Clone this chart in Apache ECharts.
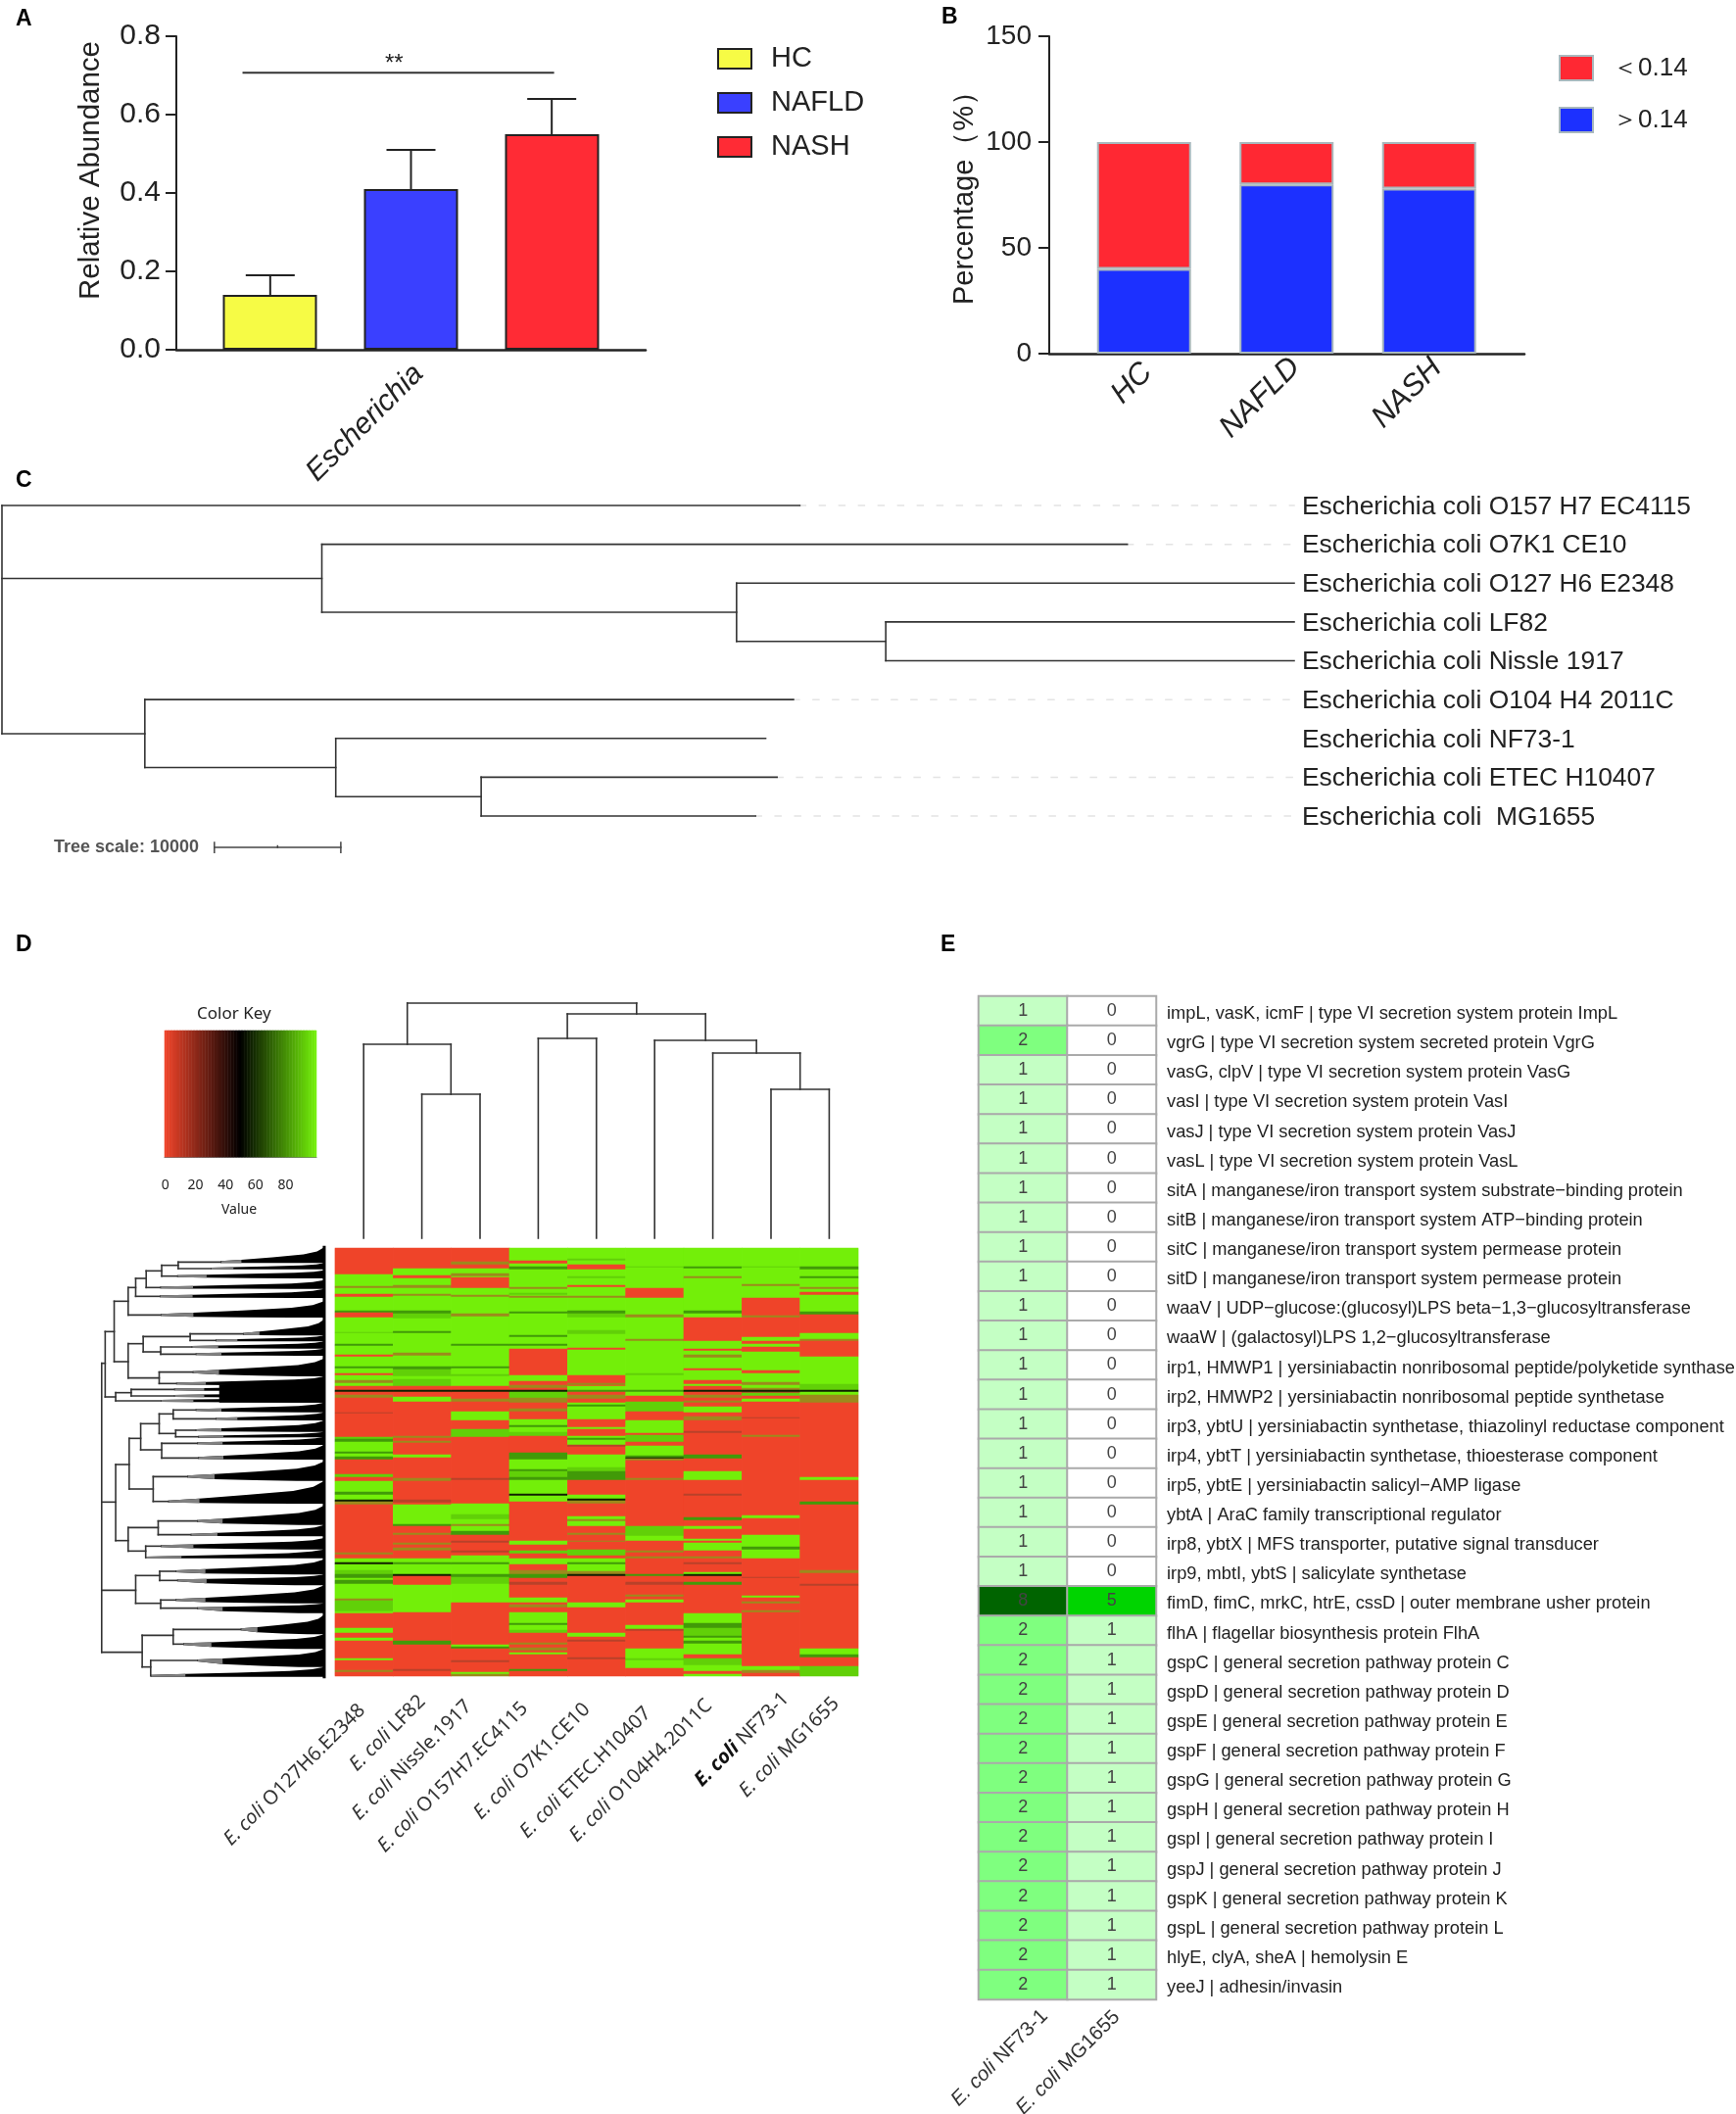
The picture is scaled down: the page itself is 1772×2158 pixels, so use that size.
<!DOCTYPE html>
<html><head><meta charset="utf-8">
<style>html,body{margin:0;padding:0;background:#fff}#c{width:1772px;height:2158px}</style>
<script src="https://cdn.jsdelivr.net/npm/echarts@6/dist/echarts.min.js"></script>
</head><body><div id="c"></div>
<script>
// ---------- Panel A ----------
const aGroups=['HC','NAFLD','NASH'];
const aCategory=['Escherichia'];
const aMeans=[0.14,0.41,0.55];
const aUpper=[0.19,0.51,0.64];
const aSignificance=[-1.19,1.01,0.707];
// ---------- Panel B ----------
const bCategories=['HC','NAFLD','NASH'];
const bAbove=[40,80,78];
const bBelow=[60,20,22];
// ---------- Panel C (branch lengths in thousands; y in leaf order) ----------
const cLeaves=['Escherichia coli O157 H7 EC4115','Escherichia coli O7K1 CE10','Escherichia coli O127 H6 E2348','Escherichia coli LF82','Escherichia coli Nissle 1917','Escherichia coli O104 H4 2011C','Escherichia coli NF73-1','Escherichia coli ETEC H10407','Escherichia coli  MG1655'];
const cHoriz=[[0,63.1,0],[0,25.3,1.88],[25.3,89,1],[25.3,58.1,2.75],[58.1,102.2,2],[58.1,69.9,3.5],[69.9,102.2,3],[69.9,102.2,4],[0,11.3,5.88],[11.3,62.6,5],[11.3,26.4,6.75],[26.4,60.4,6],[26.4,37.9,7.5],[37.9,61.3,7],[37.9,59.6,8]];
const cVert=[[0,0,5.88],[25.3,1,2.75],[58.1,2,3.5],[69.9,3,4],[11.3,5,6.75],[26.4,6,7.5],[37.9,7,8]];
const cDashes=[[63.1,102.2,0],[89,102.2,1],[62.6,102.2,5],[61.3,102.2,7],[59.6,102.2,8]];
const cScaleH=[[16.8,26.8,8.81]];
const cScaleV=[[16.8,8.68,8.94],[21.8,8.77,8.81],[26.8,8.68,8.94]];
// ---------- Panel D ----------
const dStrains=['E. coli|O127H6.E2348','E. coli|LF82','E. coli|Nissle.1917','E. coli|O157H7.EC4115','E. coli|O7K1.CE10','E. coli|ETEC.H10407','E. coli|O104H4.2011C','E. coli|NF73-1','E. coli|MG1655'];
const dKeyTicks=[0,20,40,60,80,100];
// column runs: [last row, value]
const dCol0=[[27,0],[39,100],[41,30],[47,100],[50,0],[64,100],[66,72],[71,0],[86,100],[87,88],[98,100],[100,72],[109,100],[111,0],[121,100],[123,72],[128,100],[130,0],[135,100],[138,30],[141,100],[145,0],[147,50],[150,0],[153,30],[168,0],[169,15],[193,0],[195,88],[198,72],[208,100],[210,72],[213,100],[216,72],[231,0],[234,88],[238,0],[249,100],[252,72],[257,100],[259,50],[262,30],[311,0],[313,30],[317,0],[321,100],[323,50],[329,100],[333,88],[337,72],[339,100],[343,72],[358,100],[360,30],[371,88],[373,100],[388,0],[393,100],[398,0],[401,100],[419,0],[421,100],[431,0],[433,30],[437,0]];
const dCol1=[[21,0],[28,100],[31,0],[38,100],[41,30],[47,100],[49,30],[64,100],[67,72],[72,88],[85,100],[87,72],[107,100],[110,30],[121,100],[124,72],[131,88],[134,100],[141,88],[145,0],[147,50],[152,0],[157,100],[192,0],[194,30],[197,0],[199,30],[211,0],[214,100],[235,0],[238,30],[257,0],[260,15],[262,0],[282,100],[284,72],[291,0],[293,30],[301,0],[303,30],[306,0],[309,30],[317,0],[321,100],[323,72],[333,100],[335,50],[344,0],[372,100],[401,0],[405,72],[430,0],[432,15],[437,0]];
const dCol2=[[14,0],[17,30],[21,0],[26,100],[29,30],[30,100],[41,0],[48,100],[50,30],[67,100],[70,30],[98,100],[100,72],[121,100],[123,72],[129,100],[131,88],[141,100],[145,0],[147,50],[154,0],[157,30],[167,0],[176,100],[185,0],[193,88],[235,0],[237,15],[261,0],[272,100],[277,88],[282,100],[284,30],[289,100],[293,72],[299,0],[301,15],[309,0],[311,15],[314,0],[321,100],[323,72],[333,100],[336,72],[343,88],[362,100],[405,0],[407,100],[409,72],[421,0],[423,15],[433,0],[435,100],[437,30]];
const dCol3=[[13,100],[16,0],[19,100],[22,72],[40,100],[42,30],[46,100],[48,88],[49,100],[51,30],[65,100],[67,72],[89,100],[91,72],[98,100],[100,72],[103,100],[130,0],[136,100],[140,0],[143,30],[145,0],[147,50],[149,88],[153,88],[158,30],[164,0],[167,30],[175,0],[181,100],[183,72],[188,100],[192,88],[209,0],[216,72],[226,100],[228,72],[234,88],[237,72],[251,100],[253,50],[259,100],[299,0],[303,100],[309,0],[312,88],[317,0],[323,100],[329,0],[333,30],[337,72],[341,0],[344,15],[357,0],[362,100],[364,0],[367,30],[372,0],[383,100],[385,72],[390,100],[393,88],[403,0],[405,30],[408,0],[411,30],[413,0],[415,100],[430,0],[432,72],[437,0]];
const dCol4=[[11,100],[13,88],[17,100],[22,0],[29,100],[31,88],[38,100],[40,0],[49,100],[51,30],[64,100],[67,72],[71,88],[84,100],[88,88],[102,100],[104,0],[121,100],[130,100],[138,0],[140,30],[141,0],[145,100],[147,72],[150,0],[154,30],[158,0],[160,100],[162,72],[175,100],[183,0],[185,100],[192,0],[194,100],[196,72],[201,100],[203,15],[211,0],[224,100],[228,88],[232,72],[237,72],[252,0],[256,100],[258,50],[261,30],[274,0],[277,100],[279,30],[284,100],[291,0],[293,30],[299,0],[300,30],[308,0],[314,88],[317,0],[321,100],[323,72],[330,100],[333,30],[335,50],[362,0],[367,100],[393,0],[397,100],[400,0],[402,15],[418,0],[420,15],[437,0]];
const dCol5=[[19,100],[20,88],[41,100],[51,0],[68,100],[71,30],[93,100],[95,30],[128,100],[130,88],[145,100],[147,72],[151,100],[157,0],[167,88],[176,0],[189,100],[191,0],[198,88],[202,0],[212,100],[214,72],[215,50],[217,30],[235,0],[237,30],[284,0],[286,88],[294,88],[299,100],[309,0],[311,30],[315,0],[317,30],[333,0],[335,72],[341,0],[344,15],[354,0],[356,30],[359,0],[362,100],[385,0],[389,100],[391,15],[409,0],[419,100],[421,88],[425,100],[429,100],[437,0]];
const dCol6=[[19,100],[21,72],[29,100],[31,30],[64,100],[67,72],[71,100],[95,0],[103,100],[105,0],[109,100],[112,30],[123,100],[125,0],[135,100],[139,0],[141,100],[145,0],[147,50],[150,0],[153,30],[156,0],[158,30],[162,0],[168,100],[172,0],[176,30],[187,0],[189,15],[211,0],[215,72],[228,0],[237,100],[251,0],[253,15],[275,0],[278,72],[284,0],[287,100],[297,0],[299,100],[301,0],[309,100],[315,0],[317,30],[321,0],[323,15],[331,0],[333,100],[335,50],[341,0],[344,72],[373,0],[383,100],[388,72],[396,88],[398,72],[401,100],[404,72],[415,100],[419,0],[426,88],[432,100],[435,0],[437,100]];
const dCol7=[[19,100],[20,88],[37,100],[39,30],[51,100],[69,0],[71,30],[91,0],[95,100],[98,0],[101,100],[106,0],[125,100],[128,0],[137,100],[140,30],[143,100],[145,30],[147,50],[148,15],[151,88],[154,0],[157,100],[173,0],[174,15],[191,0],[193,30],[273,0],[276,100],[293,0],[305,100],[308,72],[317,100],[336,0],[337,15],[355,0],[357,100],[361,0],[363,30],[370,0],[372,30],[427,0],[431,100],[434,30],[437,0]];
const dCol8=[[19,100],[22,72],[29,100],[31,72],[40,100],[42,30],[45,100],[48,0],[65,100],[68,72],[87,0],[93,100],[95,30],[111,0],[139,100],[145,88],[147,50],[150,100],[154,30],[158,30],[234,0],[237,100],[259,0],[262,72],[329,0],[332,30],[343,0],[345,15],[409,0],[415,100],[418,72],[427,0],[437,88]];
const dColumns=[dCol0,dCol1,dCol2,dCol3,dCol4,dCol5,dCol6,dCol7,dCol8];
const dRowCount=437;
// column dendrogram: [left pos, left height, right pos, right height, height]
const dColMerges=[[1,0,2,0,147],[0,0,1.5,147,198],[7,0,8,0,152],[6,0,7.5,152,189],[5,0,6.75,189,202],[3,0,4,0,204],[3.5,204,5.875,202,229],[0.75,198,4.69,229,240]];
// row dendrogram
const dRowH=[[27,34,425],[34,52,328],[52,80,235],[80,95,193],[95,116,165],[116,147,142],[147,180,125],[180,265,115],[180,245,135],[147,178,158],[116,144,193],[95,143,220],[80,145,277],[52,80,420],[80,110,365],[110,204,343],[204,310,335],[204,255,355],[110,145,390],[145,207,375],[145,215,397],[80,142,470],[142,209,452],[142,176,487],[34,55,528],[55,86,515],[86,172,505],[86,172,525],[55,145,540],[27,55,850],[55,82,735],[82,105,655],[105,142,610],[142,170,580],[170,215,568],[170,255,595],[142,175,640],[175,215,630],[175,220,650],[105,147,690],[147,218,670],[147,220,715],[82,130,810],[130,198,772],[130,160,848],[55,80,968],[80,140,928],[140,218,908],[140,205,950],[80,115,1000],[115,145,985],[27,95,1120],[95,143,1075],[143,175,1062],[143,178,1090],[95,145,1160],[145,175,1150],[145,218,1175],[27,108,1310],[108,170,1258],[170,305,1240],[170,190,1285],[108,125,1355],[125,218,1335]];
const dRowV=[[27,425,1310],[34,328,528],[52,235,420],[80,193,277],[95,165,220],[116,142,193],[147,125,158],[180,115,135],[80,365,470],[110,343,390],[204,335,355],[145,375,397],[142,452,487],[55,515,540],[86,505,525],[55,735,968],[82,655,810],[105,610,690],[142,580,640],[170,568,595],[175,630,650],[147,670,715],[130,772,848],[80,928,1000],[140,908,950],[115,985,1020],[95,1075,1160],[143,1062,1090],[145,1150,1175],[108,1258,1355],[170,1240,1285],[125,1335,1382]];
// wedges: [start, stem y, top y, bottom y]
const dRowW=[[265,115,70,118],[245,135,118,137],[178,158,140,165],[144,193,170,197],[143,220,197,225],[145,277,235,285],[310,335,290,340],[255,355,340,358],[207,375,358,380],[215,397,380,402],[209,452,410,465],[176,487,465,493],[172,505,490,510],[172,525,510,530],[145,540,525,545],[215,568,545,575],[255,595,575,600],[215,630,600,635],[220,650,635,652],[218,670,650,675],[220,715,675,720],[198,772,725,785],[160,848,785,855],[218,908,860,920],[205,950,920,955],[145,985,960,995],[115,1020,995,1022],[175,1062,1025,1072],[178,1090,1072,1105],[175,1150,1105,1160],[218,1175,1160,1190],[305,1240,1195,1255],[190,1285,1255,1300],[218,1335,1300,1355],[125,1382,1355,1385]];
const dRowBlock=[[262,490,545]];
const dRowEdge=[[472,70,1385]];
const wedgeStops=[0,.2,.5,.8,.93,1];
const wedgeRise=[0,.1,.28,.48,.7,1];
const wedgeDrop=[0,.5,.8,1,1,1];
// ---------- Panel E ----------
const eStrains=['E. coli|NF73-1','E. coli|MG1655'];
const eGenes=['impL, vasK, icmF | type VI secretion system protein ImpL','vgrG | type VI secretion system secreted protein VgrG','vasG, clpV | type VI secretion system protein VasG','vasI | type VI secretion system protein VasI','vasJ | type VI secretion system protein VasJ','vasL | type VI secretion system protein VasL','sitA | manganese/iron transport system substrate\u2212binding protein','sitB | manganese/iron transport system ATP\u2212binding protein','sitC | manganese/iron transport system permease protein','sitD | manganese/iron transport system permease protein','waaV | UDP\u2212glucose:(glucosyl)LPS beta\u22121,3\u2212glucosyltransferase','waaW | (galactosyl)LPS 1,2\u2212glucosyltransferase','irp1, HMWP1 | yersiniabactin nonribosomal peptide/polyketide synthase','irp2, HMWP2 | yersiniabactin nonribosomal peptide synthetase','irp3, ybtU | yersiniabactin synthetase, thiazolinyl reductase component','irp4, ybtT | yersiniabactin synthetase, thioesterase component','irp5, ybtE | yersiniabactin salicyl\u2212AMP ligase','ybtA | AraC family transcriptional regulator','irp8, ybtX | MFS transporter, putative signal transducer','irp9, mbtI, ybtS | salicylate synthetase','fimD, fimC, mrkC, htrE, cssD | outer membrane usher protein','flhA | flagellar biosynthesis protein FlhA','gspC | general secretion pathway protein C','gspD | general secretion pathway protein D','gspE | general secretion pathway protein E','gspF | general secretion pathway protein F','gspG | general secretion pathway protein G','gspH | general secretion pathway protein H','gspI | general secretion pathway protein I','gspJ | general secretion pathway protein J','gspK | general secretion pathway protein K','gspL | general secretion pathway protein L','hlyE, clyA, sheA | hemolysin E','yeeJ | adhesin/invasin'];
const eNF73=[1,2,1,1,1,1,1,1,1,1,1,1,1,1,1,1,1,1,1,1,8,2,2,2,2,2,2,2,2,2,2,2,2,2];
const eMG1655=[0,0,0,0,0,0,0,0,0,0,0,0,0,0,0,0,0,0,0,0,5,1,1,1,1,1,1,1,1,1,1,1,1,1];

const SANS='"Liberation Sans",Arial,sans-serif', NOTO='"Noto Sans",sans-serif';
const INK='#222';
const grids=[],xAxes=[],yAxes=[],series=[];

// move a 45-degree rotated axis label by (dx,dy) pixels using its padding
function nudge(dx,dy){
  const a=(dx-dy)/1.414,b=(dx+dy)/1.414;
  return [b>0?2*b:0,-a,b<0?-2*b:0,0];
}
function nudged(values,shifts){return values.map((v,i)=>({value:v,textStyle:{padding:nudge(shifts[i][0],shifts[i][1])}}));}

function segSeries(name,xi,yi,segs,color,width,dash){
  series.push({type:'custom',name,xAxisIndex:xi,yAxisIndex:yi,silent:true,clip:false,data:segs,
    encode:{x:[0,2],y:[1,3]},
    renderItem(p,api){const a=api.coord([api.value(0),api.value(1)]),b=api.coord([api.value(2),api.value(3)]);
      return {type:'line',shape:{x1:a[0],y1:a[1],x2:b[0],y2:b[1]},style:{stroke:color,lineWidth:width,lineDash:dash||null,lineCap:'square'}};}});
}
const hSegs=a=>a.map(d=>[d[0],d[2],d[1],d[2]]);
const vSegs=a=>a.map(d=>[d[0],d[1],d[0],d[2]]);
const noAxis={axisLine:{show:false},axisTick:{show:false},axisLabel:{show:false},splitLine:{show:false}};

// ===== A =====
grids.push({left:180,top:37,width:479,height:320});
xAxes.push({gridIndex:0,type:'category',data:nudged(aCategory,[[23,7]]),axisTick:{show:false},axisLine:{lineStyle:{color:INK,width:2.5}},
  axisLabel:{rotate:45,margin:28,fontFamily:SANS,fontSize:30,fontStyle:'italic',color:INK}});
xAxes.push(Object.assign({gridIndex:0,type:'value',min:-1.667,max:1.667,show:false},noAxis));
yAxes.push({gridIndex:0,type:'value',min:0,max:0.8,interval:0.2,name:'Relative Abundance',nameLocation:'middle',nameGap:72,nameRotate:90,
  nameTextStyle:{fontFamily:SANS,fontSize:29.5,color:INK,padding:[0,0,0,46]},splitLine:{show:false},
  axisLine:{show:true,onZero:false,lineStyle:{color:INK,width:2}},axisTick:{show:true,length:11,lineStyle:{color:INK,width:2}},
  axisLabel:{margin:16,fontFamily:SANS,fontSize:30,color:INK,formatter:v=>v.toFixed(1)}});
const aColors=['#f6fb45','#3a40ff','#ff2b35'];
aGroups.forEach((n,i)=>series.push({type:'bar',name:n,xAxisIndex:0,yAxisIndex:0,data:[aMeans[i]],barWidth:96,barGap:'50%',
  itemStyle:{color:aColors[i],borderColor:INK,borderWidth:2}}));
segSeries('errA',1,0,aMeans.map((m,i)=>[i-1,m,i-1,aUpper[i]]),INK,2);
series.push({type:'custom',name:'capA',xAxisIndex:1,yAxisIndex:0,silent:true,data:aUpper.map((u,i)=>[i-1,u]),encode:{x:0,y:1},
  renderItem(p,api){const c=api.coord([api.value(0),api.value(1)]);return {type:'line',shape:{x1:c[0]-25,y1:c[1],x2:c[0]+25,y2:c[1]},style:{stroke:INK,lineWidth:2}};}});
segSeries('sigA',1,0,[[aSignificance[0],aSignificance[2],aSignificance[1],aSignificance[2]]],'#333',2);

// ===== B =====
grids.push({left:1095,top:37,width:436.5,height:324});
xAxes.push({gridIndex:1,type:'category',data:nudged(bCategories,[[6,-1],[15,-3],[14,-2]]),axisTick:{show:false},axisLine:{show:false},
  axisLabel:{interval:0,rotate:45,margin:18,fontFamily:SANS,fontSize:31,fontStyle:'italic',color:INK}});
const bxi=xAxes.length-1;
yAxes.push({gridIndex:1,type:'value',min:0,max:150,interval:50,offset:24,name:'Percentage（%）',nameLocation:'middle',nameGap:72,nameRotate:90,
  nameTextStyle:{fontFamily:SANS,fontSize:29,color:INK,padding:[0,0,0,8]},splitLine:{show:false},
  axisLine:{show:true,onZero:false,lineStyle:{color:INK,width:2}},axisTick:{show:true,length:11,lineStyle:{color:INK,width:2}},
  axisLabel:{margin:18,fontFamily:SANS,fontSize:28,color:INK}});
const bBorder={borderColor:'#a9b8bd',borderWidth:2};
series.push({type:'bar',name:'＞0.14',xAxisIndex:bxi,yAxisIndex:1,stack:'b',barWidth:96,data:bAbove,itemStyle:Object.assign({color:'#1c30ff'},bBorder)});
series.push({type:'bar',name:'＜0.14',xAxisIndex:bxi,yAxisIndex:1,stack:'b',barWidth:96,data:bBelow,itemStyle:Object.assign({color:'#ff2833'},bBorder)});

// ===== C =====
grids.push({left:2,top:516,width:1319,height:317});
xAxes.push(Object.assign({gridIndex:2,type:'value',min:0,max:102.2},noAxis));
const cxi=xAxes.length-1;
yAxes.push(Object.assign({gridIndex:2,type:'value',min:0,max:8,inverse:true},noAxis));
const cyi=yAxes.length-1;
segSeries('cDash',cxi,cyi,hSegs(cDashes),'#e4e4e4',1.5,[6,14]);
segSeries('cH',cxi,cyi,hSegs(cHoriz),'#333',1.6);
segSeries('cV',cxi,cyi,vSegs(cVert),'#333',1.6);
segSeries('cScaleH',cxi,cyi,hSegs(cScaleH),'#444',1.5);
segSeries('cScaleV',cxi,cyi,vSegs(cScaleV),'#444',1.5);

// ===== D key =====
const keyCats=[];for(let i=0;i<=100;i++)keyCats.push(i);
grids.push({left:168,top:1052,width:155,height:129});
xAxes.push({gridIndex:3,type:'category',data:keyCats,axisLine:{lineStyle:{color:'#777',width:1}},
  axisTick:{alignWithLabel:true,length:11,interval:i=>dKeyTicks.includes(i),lineStyle:{color:'#444',width:1.2}},
  axisLabel:{interval:i=>dKeyTicks.includes(i)&&i<100,margin:22,fontFamily:NOTO,fontSize:14,color:INK}});
const kxi=xAxes.length-1;
yAxes.push(Object.assign({gridIndex:3,type:'category',data:['k']},noAxis));
const kyi=yAxes.length-1;
series.push({type:'heatmap',name:'key',xAxisIndex:kxi,yAxisIndex:kyi,silent:true,data:keyCats.map(i=>[i,0,i]),progressive:0});
const keySeries=series.length-1;

// ===== D column dendrogram =====
grids.push({left:341.5,top:1014,width:534.6,height:250});
xAxes.push(Object.assign({gridIndex:4,type:'value',min:-0.5,max:8.5},noAxis));
const dxi=xAxes.length-1;
yAxes.push(Object.assign({gridIndex:4,type:'value',min:0,max:250},noAxis));
const dyi=yAxes.length-1;
segSeries('dColDend',dxi,dyi,dColMerges.flatMap(m=>[[m[0],m[1],m[0],m[4]],[m[2],m[3],m[2],m[4]],[m[0],m[4],m[2],m[4]]]),'#333',1.6);

// ===== D heatmap =====
const fmtStrain=(s,bold)=>{const p=s.split('|');return '{'+(bold?'b':'i')+'|'+p[0]+'} '+p[1];};
const rowCats=[];for(let i=0;i<dRowCount;i++)rowCats.push(i);
const heat=[];
dColumns.forEach((runs,c)=>{let s=0;runs.forEach(r=>{for(let i=s;i<r[0];i++)heat.push([c,i,r[1]]);s=r[0];});});
grids.push({left:342,top:1274,width:534,height:dRowCount});
xAxes.push({gridIndex:5,type:'category',data:nudged(dStrains,[[-2,12],[0,3],[-12,8],[-14,10],[-10,11],[-7,15],[-4,7],[15,0],[7,5]]),axisLine:{show:false},axisTick:{show:false},
  axisLabel:{interval:0,rotate:45,margin:20,fontFamily:NOTO,fontSize:20,color:'#333',formatter:v=>fmtStrain(v,v.includes('NF73')),
    rich:{i:{fontFamily:NOTO,fontSize:20,fontStyle:'italic',color:'#333'},b:{fontFamily:NOTO,fontSize:20,fontStyle:'italic',fontWeight:'bold',color:'#111'}}}});
const hxi=xAxes.length-1;
yAxes.push(Object.assign({gridIndex:5,type:'category',inverse:true,data:rowCats},noAxis));
const hyi=yAxes.length-1;
series.push({type:'heatmap',name:'matrix',xAxisIndex:hxi,yAxisIndex:hyi,silent:true,data:heat,progressive:0});
const heatSeries=series.length-1;

// ===== D row dendrogram =====
grids.push({left:90,top:1250,width:243,height:462});
xAxes.push(Object.assign({gridIndex:6,type:'value',min:0,max:476},noAxis));
const rxi=xAxes.length-1;
yAxes.push(Object.assign({gridIndex:6,type:'value',min:0,max:1386,inverse:true},noAxis));
const ryi=yAxes.length-1;
series.push({type:'custom',name:'wedges',xAxisIndex:rxi,yAxisIndex:ryi,silent:true,clip:false,data:dRowW,encode:{x:0,y:1},
  renderItem(p,api){
    const x0=api.value(0),s=api.value(1),t=api.value(2),b=api.value(3),xr=472;
    const top=wedgeStops.map((u,i)=>api.coord([x0+(xr-x0)*u,s-3+(t-s+3)*wedgeRise[i]]));
    const bot=wedgeStops.map((u,i)=>api.coord([x0+(xr-x0)*u,s+3+(b-s-3)*wedgeDrop[i]]));
    const lead=x0+(xr-x0)*0.2;
    const g=[api.coord([x0,s-3]),api.coord([lead,s-3+(t-s+3)*wedgeRise[1]]),api.coord([lead,s+3+(b-s-3)*wedgeDrop[1]]),api.coord([x0,s+3])];
    return {type:'group',children:[
      {type:'polygon',shape:{points:top.concat(bot.reverse())},style:{fill:'#000'}},
      {type:'polygon',shape:{points:g},style:{fill:'#808080'}}]};
  }});
series.push({type:'custom',name:'mass',xAxisIndex:rxi,yAxisIndex:ryi,silent:true,clip:false,data:dRowBlock,encode:{x:0,y:1},
  renderItem(p,api){const a=api.coord([api.value(0),api.value(1)]),b=api.coord([474,api.value(2)]);
    return {type:'rect',shape:{x:a[0],y:a[1],width:b[0]-a[0],height:b[1]-a[1]},style:{fill:'#000'}};}});
segSeries('rowH',rxi,ryi,hSegs(dRowH),'#333',1.6);
segSeries('rowV',rxi,ryi,vSegs(dRowV),'#333',1.6);
segSeries('rowEdge',rxi,ryi,vSegs(dRowEdge),'#000',3);

// ===== E =====
grids.push({left:999,top:1017,width:181,height:1024});
xAxes.push({gridIndex:7,type:'category',data:nudged(eStrains,[[22,0],[5,1]]),axisLine:{show:false},axisTick:{show:false},
  axisLabel:{interval:0,rotate:45,margin:14,fontFamily:SANS,fontSize:20.5,color:'#333',formatter:v=>fmtStrain(v,false),
    rich:{i:{fontFamily:SANS,fontSize:20.5,fontStyle:'italic',color:'#333'}}}});
const exi=xAxes.length-1;
yAxes.push(Object.assign({gridIndex:7,type:'category',inverse:true,data:eGenes},noAxis));
const eyi=yAxes.length-1;
series.push({type:'heatmap',name:'genes',xAxisIndex:exi,yAxisIndex:eyi,silent:true,
  data:eGenes.flatMap((g,i)=>[[0,i,eNF73[i]],[1,i,eMG1655[i]]]),
  itemStyle:{borderColor:'#aaaaaa',borderWidth:2},
  label:{show:true,formatter:p=>p.value[2],fontFamily:SANS,fontSize:18,color:'#444'}});
const eSeries=series.length-1;

// ===== B x-axis line (extends past the bars) =====
grids.push({left:1071,top:37,width:485,height:324});
xAxes.push({gridIndex:8,type:'category',data:[''],axisTick:{show:false},axisLabel:{show:false},axisLine:{show:true,lineStyle:{color:INK,width:2.5}}});
yAxes.push(Object.assign({gridIndex:8,type:'value',min:0,max:150},noAxis));

// ===== C leaf labels (axis of their own, sits just below the branch tips) =====
grids.push({left:2,top:517.5,width:1319,height:317});
xAxes.push(Object.assign({gridIndex:9,type:'value',min:0,max:1},noAxis));
yAxes.push({gridIndex:9,type:'category',position:'right',inverse:true,boundaryGap:false,data:cLeaves,axisLine:{show:false},axisTick:{show:false},splitLine:{show:false},
  axisLabel:{interval:0,margin:8,fontFamily:SANS,fontSize:26.4,color:INK}});

// ===== E gene labels (axis of their own, slightly below the cell centres) =====
grids.push({left:999,top:1020,width:181,height:1024});
xAxes.push(Object.assign({gridIndex:10,type:'value',min:0,max:1},noAxis));
yAxes.push({gridIndex:10,type:'category',position:'right',inverse:true,data:eGenes,axisLine:{show:false},axisTick:{show:false},splitLine:{show:false},
  axisLabel:{interval:0,margin:11,fontFamily:SANS,fontSize:18.25,color:INK}});

// grids are placed exactly; labels must not shrink them
grids.forEach(g=>{g.outerBoundsMode='none';});

const letters=[['A',16,20],['B',961,18],['C',16,491],['D',16,965],['E',960,965]];
const graphic=letters.map(l=>({type:'text',left:l[1],top:l[2]-12,style:{text:l[0],fontFamily:SANS,fontSize:23,fontWeight:'bold',fill:'#000'}}));
graphic.push({type:'text',left:393,top:53,style:{text:'**',fontFamily:SANS,fontSize:24,fill:INK}});
graphic.push({type:'text',left:55,top:856,style:{text:'Tree scale: 10000',fontFamily:SANS,fontSize:18,fontWeight:'bold',fill:'#555'}});
graphic.push({type:'text',left:201,top:1027,style:{text:'Color Key',fontFamily:NOTO,fontSize:17,fill:INK}});
graphic.push({type:'text',left:226,top:1228,style:{text:'Value',fontFamily:NOTO,fontSize:14,fill:INK}});

const chart=echarts.init(document.getElementById('c'),null,{renderer:'canvas'});
chart.setOption({
  animation:false,backgroundColor:'#fff',textStyle:{fontFamily:SANS},
  grid:grids,xAxis:xAxes,yAxis:yAxes,series,graphic,
  legend:[
    {data:aGroups.map(n=>({name:n,icon:'rect'})),orient:'vertical',left:732,top:45,padding:0,itemWidth:34,itemHeight:20,itemGap:15,
      textStyle:{fontFamily:SANS,fontSize:29,color:INK,padding:[0,0,0,15],lineHeight:30}},
    {data:['＜0.14','＞0.14'].map(n=>({name:n,icon:'rect'})),orient:'vertical',left:1591,top:56,padding:0,itemWidth:34,itemHeight:25,itemGap:26,
      textStyle:{fontFamily:SANS,fontSize:26,color:INK,padding:[0,0,0,15]}}
  ],
  visualMap:[
    {type:'continuous',show:false,seriesIndex:keySeries,dimension:2,min:0,max:100,inRange:{color:['#ef442a','#000000','#73ef0a']}},
    {type:'piecewise',show:false,seriesIndex:heatSeries,dimension:2,pieces:[
      {value:0,color:'#ef442a'},{value:15,color:'#b8422a'},{value:30,color:'#9c8a1c'},{value:50,color:'#102000'},{value:72,color:'#429a08'},{value:88,color:'#62d008'},{value:100,color:'#73ef0a'}]},
    {type:'piecewise',show:false,seriesIndex:eSeries,dimension:2,pieces:[
      {value:0,color:'#ffffff'},{value:1,color:'#c4ffc4'},{value:2,color:'#7fff7f'},{value:5,color:'#00d400'},{value:8,color:'#006400'}]}
  ]
});
</script></body></html>
